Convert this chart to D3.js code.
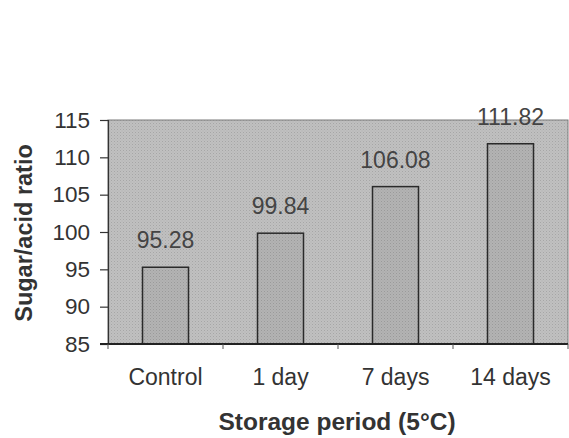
<!DOCTYPE html>
<html>
<head>
<meta charset="utf-8">
<script src="https://cdn.jsdelivr.net/npm/d3@7"></script>
<style>
  html, body { margin: 0; padding: 0; background: #ffffff; }
  svg { display: block; }
  text { font-family: "Liberation Sans", Arial, Helvetica, sans-serif; }
</style>
</head>
<body>
<svg id="chart" width="569" height="438"></svg>
<script>
const categories = ["Control", "1 day", "7 days", "14 days"];
const values = [95.28, 99.84, 106.08, 111.82];
const valueLabels = ["95.28", "99.84", "106.08", "111.82"];
const yTicks = [85, 90, 95, 100, 105, 110, 115];
const yTitle = "Sugar/acid ratio";
const xTitle = "Storage period (5°C)";

const svg = d3.select("#chart");
const mLeft = 108, mRight = 568, mTop = 120, mBottom = 344;

const defs = svg.append("defs");
const pat = defs.append("pattern").attr("id", "dots").attr("width", 3).attr("height", 3)
  .attr("patternUnits", "userSpaceOnUse");
pat.append("rect").attr("width", 3).attr("height", 3).attr("fill", "#c0c0c0");
pat.append("rect").attr("x", 0).attr("y", 0).attr("width", 1).attr("height", 1).attr("fill", "#a6a6a6");
pat.append("rect").attr("x", 1.5).attr("y", 1.5).attr("width", 1).attr("height", 1).attr("fill", "#b0b0b0");

const pat2 = defs.append("pattern").attr("id", "dots2").attr("width", 3).attr("height", 3)
  .attr("patternUnits", "userSpaceOnUse");
pat2.append("rect").attr("width", 3).attr("height", 3).attr("fill", "#b3b3b3");
pat2.append("rect").attr("x", 0).attr("y", 0).attr("width", 1).attr("height", 1).attr("fill", "#9a9a9a");
pat2.append("rect").attr("x", 1.5).attr("y", 1.5).attr("width", 1).attr("height", 1).attr("fill", "#a4a4a4");

const x = d3.scaleBand().domain(categories).range([mLeft, mRight]).paddingInner(0.6).paddingOuter(0.3);
const y = d3.scaleLinear().domain([85, 115]).range([mBottom, mTop]);

// plot area
svg.append("rect").attr("x", mLeft).attr("y", mTop).attr("width", mRight - mLeft).attr("height", mBottom - mTop)
  .attr("fill", "url(#dots)").attr("stroke", "#7a7a7a").attr("stroke-width", 1);

// bars
svg.selectAll("rect.bar").data(values).enter().append("rect").attr("class", "bar")
  .attr("x", (d, i) => x(categories[i]))
  .attr("y", d => y(d))
  .attr("width", x.bandwidth())
  .attr("height", d => y(85) - y(d))
  .attr("fill", "url(#dots2)")
  .attr("stroke", "#2a2a2a").attr("stroke-width", 1.5);

// value labels
svg.selectAll("text.val").data(values).enter().append("text").attr("class", "val")
  .attr("x", (d, i) => x(categories[i]) + x.bandwidth() / 2)
  .attr("y", d => y(d) - 19)
  .attr("text-anchor", "middle").attr("font-size", 23).attr("fill", "#444")
  .text((d, i) => valueLabels[i]);

// y axis
const yAxis = svg.append("g").attr("transform", `translate(${mLeft},0)`)
  .call(d3.axisLeft(y).tickValues(yTicks).tickSize(8).tickPadding(10).tickFormat(d3.format("d")));
yAxis.select(".domain").attr("stroke", "#333").attr("stroke-width", 1.2);
yAxis.selectAll(".tick line").attr("stroke", "#333").attr("stroke-width", 1.2);
yAxis.selectAll(".tick text").attr("font-size", 22.5).attr("fill", "#333")
  .attr("font-family", "'Liberation Sans', Arial, sans-serif");

// x axis
const xBoundaryScale = d3.scaleLinear().domain([0, categories.length]).range([mLeft, mRight]);
const xAxis = svg.append("g").attr("transform", `translate(0,${mBottom})`)
  .call(d3.axisBottom(x).tickSize(0).tickPadding(25));
xAxis.select(".domain").attr("stroke", "none");
xAxis.selectAll(".tick text").attr("font-size", 23).attr("fill", "#333")
  .attr("font-family", "'Liberation Sans', Arial, sans-serif");
svg.append("line").attr("x1", 100).attr("x2", mRight).attr("y1", mBottom).attr("y2", mBottom)
  .attr("stroke", "#222").attr("stroke-width", 2);
svg.selectAll("line.xt").data(d3.range(categories.length + 1)).enter().append("line").attr("class", "xt")
  .attr("x1", d => xBoundaryScale(d)).attr("x2", d => xBoundaryScale(d))
  .attr("y1", mBottom).attr("y2", mBottom + 5)
  .attr("stroke", "#555").attr("stroke-width", 1);

// titles
svg.append("text").attr("transform", "translate(32,233) rotate(-90)")
  .attr("text-anchor", "middle").attr("font-size", 23.5).attr("font-weight", "bold").attr("fill", "#333")
  .text(yTitle);
svg.append("text").attr("x", 337).attr("y", 430)
  .attr("text-anchor", "middle").attr("font-size", 24.5).attr("font-weight", "bold").attr("fill", "#333")
  .text(xTitle);
</script>
</body>
</html>
